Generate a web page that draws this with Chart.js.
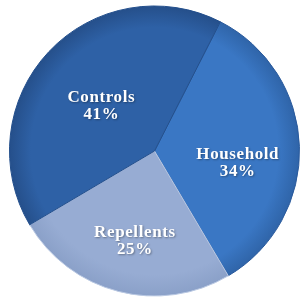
<!DOCTYPE html>
<html>
<head>
<meta charset="utf-8">
<script src="https://cdn.jsdelivr.net/npm/chart.js@4.4.0/dist/chart.umd.min.js"></script>
<style>
  html, body { margin: 0; padding: 0; background: #fff; }
  #wrap { width: 300px; height: 307px; }
</style>
</head>
<body>
<div id="wrap"><canvas id="pie" width="300" height="307"></canvas></div>
<script>
// Market share by segment
const categories = ['Household', 'Repellents', 'Controls'];
const shares = [34, 25, 41];

const fillColors = ['#3a77c4', '#97acd3', '#2e61a6'];
const edgeColors = ['#2f64a8', '#8aa0c8', '#254f8a'];

// radial shading, a bit lighter towards the rim
function shade(ctx) {
  const chart = ctx.chart;
  const area = chart.chartArea;
  if (!area) return fillColors[ctx.dataIndex];
  const cx = (area.left + area.right) / 2;
  const cy = (area.top + area.bottom) / 2;
  const r = Math.min(area.right - area.left, area.bottom - area.top) / 2;
  const g = chart.ctx.createRadialGradient(cx, cy, 0, cx, cy, r);
  const base = fillColors[ctx.dataIndex];
  g.addColorStop(0, base);
  g.addColorStop(0.85, base);
  g.addColorStop(1, edgeColors[ctx.dataIndex]);
  return g;
}

// where each label sits: fraction of radius, angle shift in degrees
const labelSpots = [
  { r: 0.58, a: 10 },
  { r: 0.63, a: -2 },
  { r: 0.48, a: -3 }
];

const sliceLabels = {
  id: 'sliceLabels',
  afterDatasetsDraw(chart) {
    const ctx = chart.ctx;
    const meta = chart.getDatasetMeta(0);
    const data = chart.data.datasets[0].data;
    const total = data.reduce((a, b) => a + b, 0);
    ctx.save();
    ctx.fillStyle = '#ffffff';
    ctx.textAlign = 'center';
    ctx.textBaseline = 'middle';
    ctx.font = 'bold 17px "Liberation Serif", serif';
    ctx.letterSpacing = '0.6px';
    ctx.shadowColor = 'rgba(0,0,0,0.35)';
    ctx.shadowBlur = 2;
    ctx.shadowOffsetX = 1;
    ctx.shadowOffsetY = 1;
    meta.data.forEach((arc, i) => {
      const p = arc.getProps(['x', 'y', 'startAngle', 'endAngle', 'outerRadius'], true);
      const spot = labelSpots[i];
      const mid = (p.startAngle + p.endAngle) / 2 + spot.a * Math.PI / 180;
      const rr = p.outerRadius * spot.r;
      const lx = p.x + Math.cos(mid) * rr;
      const ly = p.y + Math.sin(mid) * rr;
      const pct = Math.round(data[i] / total * 100) + '%';
      ctx.fillText(chart.data.labels[i], lx, ly - 8);
      ctx.fillText(pct, lx, ly + 9);
    });
    ctx.restore();
  }
};

new Chart(document.getElementById('pie'), {
  type: 'pie',
  data: {
    labels: categories,
    datasets: [{
      data: shares,
      backgroundColor: shade,
      borderColor: ['#2a5a9c', '#b9c8e2', '#234f8c'],
      borderWidth: 1
    }]
  },
  options: {
    responsive: false,
    animation: false,
    rotation: 27,
    layout: { padding: { left: 9, right: 0, top: 4, bottom: 9 } },
    plugins: {
      legend: { display: false },
      tooltip: { enabled: false }
    }
  },
  plugins: [sliceLabels]
});
</script>
</body>
</html>
